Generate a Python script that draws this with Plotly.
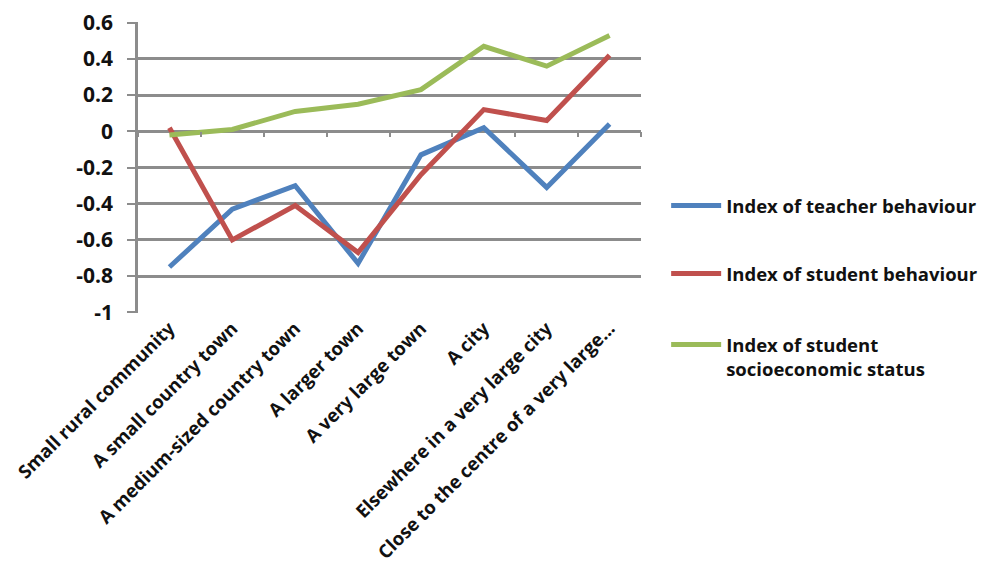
import plotly.graph_objects as go

categories = [
    "Small rural community",
    "A small country town",
    "A medium-sized country town",
    "A larger town",
    "A very large town",
    "A city",
    "Elsewhere in a very large city",
    "Close to the centre of a very large...",
]
teacher_behaviour = [-0.75, -0.43, -0.30, -0.73, -0.13, 0.02, -0.31, 0.04]
student_behaviour = [0.02, -0.60, -0.41, -0.67, -0.24, 0.12, 0.06, 0.42]
student_ses = [-0.02, 0.01, 0.11, 0.15, 0.23, 0.47, 0.36, 0.53]

series_names = [
    "Index of teacher behaviour",
    "Index of student behaviour",
    "Index of student<br>socioeconomic status",
]
series_colors = ["#4F81BD", "#C0504D", "#9BBB59"]
y_ticks = [0.6, 0.4, 0.2, 0, -0.2, -0.4, -0.6, -0.8, -1]

FONT = "Open Sans"
GRID = "#8C8C8C"
legend_ids = ["legend", "legend2", "legend3"]
legend_tops = [0.433, 0.199, -0.045]

fig = go.Figure()
for name, vals, col, lg in zip(
    series_names, [teacher_behaviour, student_behaviour, student_ses], series_colors, legend_ids
):
    fig.add_trace(go.Scatter(
        x=categories, y=vals, name=name, mode="lines",
        line=dict(color=col, width=5),
        legend=lg,
    ))

# Horizontal axis crossing at zero: tick marks between categories
fig.add_trace(go.Scatter(x=[None], y=[None], xaxis="x2", showlegend=False, hoverinfo="skip"))

legend_style = dict(
    x=1.05, xanchor="left", yanchor="top",
    font=dict(family=FONT, size=18.5, weight="bold"),
    valign="top", itemwidth=50, bgcolor="rgba(0,0,0,0)",
)

y_min, y_max = -1.0, 0.6
fig.update_layout(
    width=981, height=563,
    paper_bgcolor="white", plot_bgcolor="white",
    margin=dict(l=138, r=340, t=22, b=250, autoexpand=False),
    font=dict(family=FONT, size=18, color="#111111", weight="bold"),
    xaxis=dict(
        type="category", range=[-0.5, len(categories) - 0.5],
        tickangle=-45, ticks="", showgrid=False, showline=False,
        tickfont=dict(family=FONT, size=18.5, weight="bold"),
        automargin=False,
    ),
    xaxis2=dict(
        overlaying="x", anchor="free",
        position=(0 - y_min) / (y_max - y_min),
        range=[-0.5, len(categories) - 0.5],
        tickmode="array",
        tickvals=[k - 0.5 for k in range(len(categories) + 1)],
        ticks="outside", ticklen=5, tickwidth=2, tickcolor=GRID,
        showticklabels=False, showgrid=False, showline=False, zeroline=False,
        automargin=False,
    ),
    yaxis=dict(
        range=[y_min - 0.004, y_max + 0.004],
        tickmode="array", tickvals=y_ticks,
        ticktext=[f"{v:g}" for v in y_ticks],
        showgrid=True, gridcolor=GRID, gridwidth=2.5,
        zeroline=False,
        showline=True, linecolor=GRID, linewidth=2.5,
        ticks="outside", ticklen=8, tickwidth=2, tickcolor=GRID,
        ticklabelstandoff=10,
        tickfont=dict(family=FONT, size=21, weight="bold"),
        automargin=False,
    ),
    showlegend=True,
)
for lg, top in zip(legend_ids, legend_tops):
    fig.update_layout({lg: dict(legend_style, y=top)})

fig.write_html("out.html")
